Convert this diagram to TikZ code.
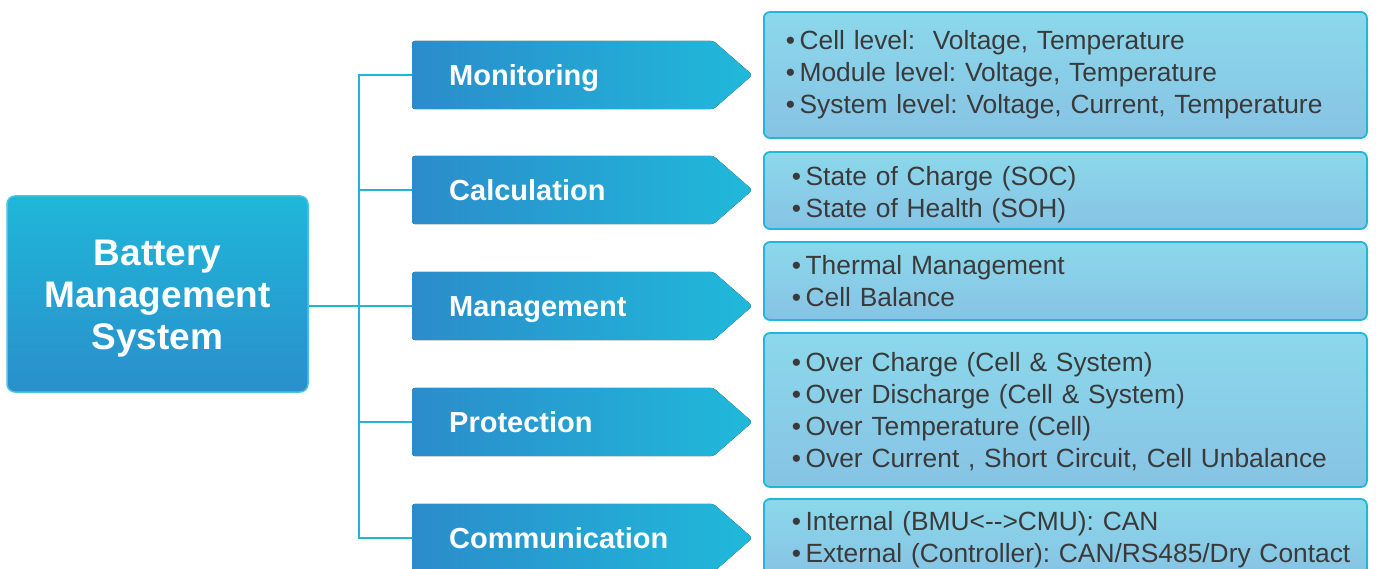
\documentclass[tikz,border=0pt]{standalone}
\usepackage{fontspec}
\setmainfont{Liberation Sans}
\usetikzlibrary{calc}
\definecolor{lineC}{HTML}{22B5D9}
\definecolor{bmsTop}{HTML}{1FB7D9}
\definecolor{bmsBot}{HTML}{2A8FCB}
\definecolor{bmsEdge}{HTML}{45C4E3}
\definecolor{catL}{HTML}{2B8CCB}
\definecolor{catR}{HTML}{20B9DA}
\definecolor{detTop}{HTML}{8BD8EB}
\definecolor{detBot}{HTML}{87C3E4}
\definecolor{detEdge}{HTML}{22B7DA}
\definecolor{detText}{HTML}{3A3A3A}
\newcommand{\itm}[1]{\mbox{•\hspace{4.5pt}#1}}
\frenchspacing
\begin{document}
\begin{tikzpicture}[x=1pt,y=1pt,
  conn/.style={draw=lineC, line width=2.2pt},
  bms/.style={rounded corners=8pt, top color=bmsTop, bottom color=bmsBot, draw=bmsEdge, line width=1.5pt,
    minimum width=301pt, minimum height=196pt, text width=301pt, text=white, font=\fontsize{37}{42}\selectfont\bfseries,
    align=center, inner sep=0pt},
  catbody/.style={minimum width=301pt, minimum height=68pt, inner sep=0pt, anchor=west},
  catfill/.style={left color=catL, right color=catR, rounded corners=3pt},
  cattext/.style={text=white, font=\fontsize{29}{30}\selectfont\bfseries, anchor=base west, inner sep=0pt},
  detail/.style={rounded corners=6pt, top color=detTop, bottom color=detBot, draw=detEdge, line width=1.8pt,
    anchor=west, minimum width=603pt, text width=559pt, inner xsep=22pt, inner ysep=0pt,
    text=detText, font=\fontsize{26.35}{32}\selectfont, align=left}
]
\useasboundingbox (0,0) rectangle (1376,-569);

% main box
\node[bms] (bms) at (157.5,-294) {\rule{0pt}{35pt}Battery\\Management\\System};

% category arrows
\foreach \n/\y/\t in {cat1/75/Monitoring, cat2/190/Calculation, cat3/306/Management, cat4/422/Protection, cat5/538/Communication}{
  \node[catbody] (\n) at (412,-\y) {};
  \fill[catfill] (\n.north west) -- (\n.north east) -- ($(\n.east)+(39,0)$) -- (\n.south east) -- (\n.south west) -- cycle;
  \node[cattext] (\n t) at ($(\n.west)+(37,-10.5)$) {\t};
}

% connectors
\coordinate (tj) at (359,-306);
\draw[conn] (cat1.west) -| (tj) |- (cat5.west);
\draw[conn] (tj -| bms.east) -- (cat3.west);
\draw[conn] (cat2.west) -- (cat2.west -| tj);
\draw[conn] (cat4.west) -- (cat4.west -| tj);

% detail boxes
\node[detail, minimum height=126pt] (d1) at (763,-75)
  {\itm{Cell level:~~Voltage, Temperature}\\\itm{Module level: Voltage, Temperature}\\\itm{System level: Voltage, Current, Temperature}};
\node[detail, minimum height=77pt] (d2) at (763,-190.5)
  {\rule{0pt}{28pt}\hspace*{6pt}\itm{State of Charge (SOC)}\\\hspace*{6pt}\itm{State of Health (SOH)}};
\node[detail, minimum height=78pt] (d3) at (763,-281)
  {\hspace*{6pt}\itm{Thermal Management}\\\hspace*{6pt}\itm{Cell Balance}};
\node[detail, minimum height=154pt] (d4) at (763,-410)
  {\rule{0pt}{23.3pt}\hspace*{6pt}\itm{Over Charge (Cell \& System)}\\\hspace*{6pt}\itm{Over Discharge (Cell \& System)}\\\hspace*{6pt}\itm{Over Temperature (Cell)}\\\hspace*{6pt}\itm{Over Current , Short Circuit, Cell Unbalance}};
\node[detail, minimum height=76pt] (d5) at (763,-537)
  {\rule{0pt}{25.3pt}\hspace*{6pt}\itm{Internal (BMU<-{}->CMU): CAN}\\\hspace*{6pt}\itm{External (Controller): CAN/RS485/Dry Contact}};
\end{tikzpicture}
\end{document}
